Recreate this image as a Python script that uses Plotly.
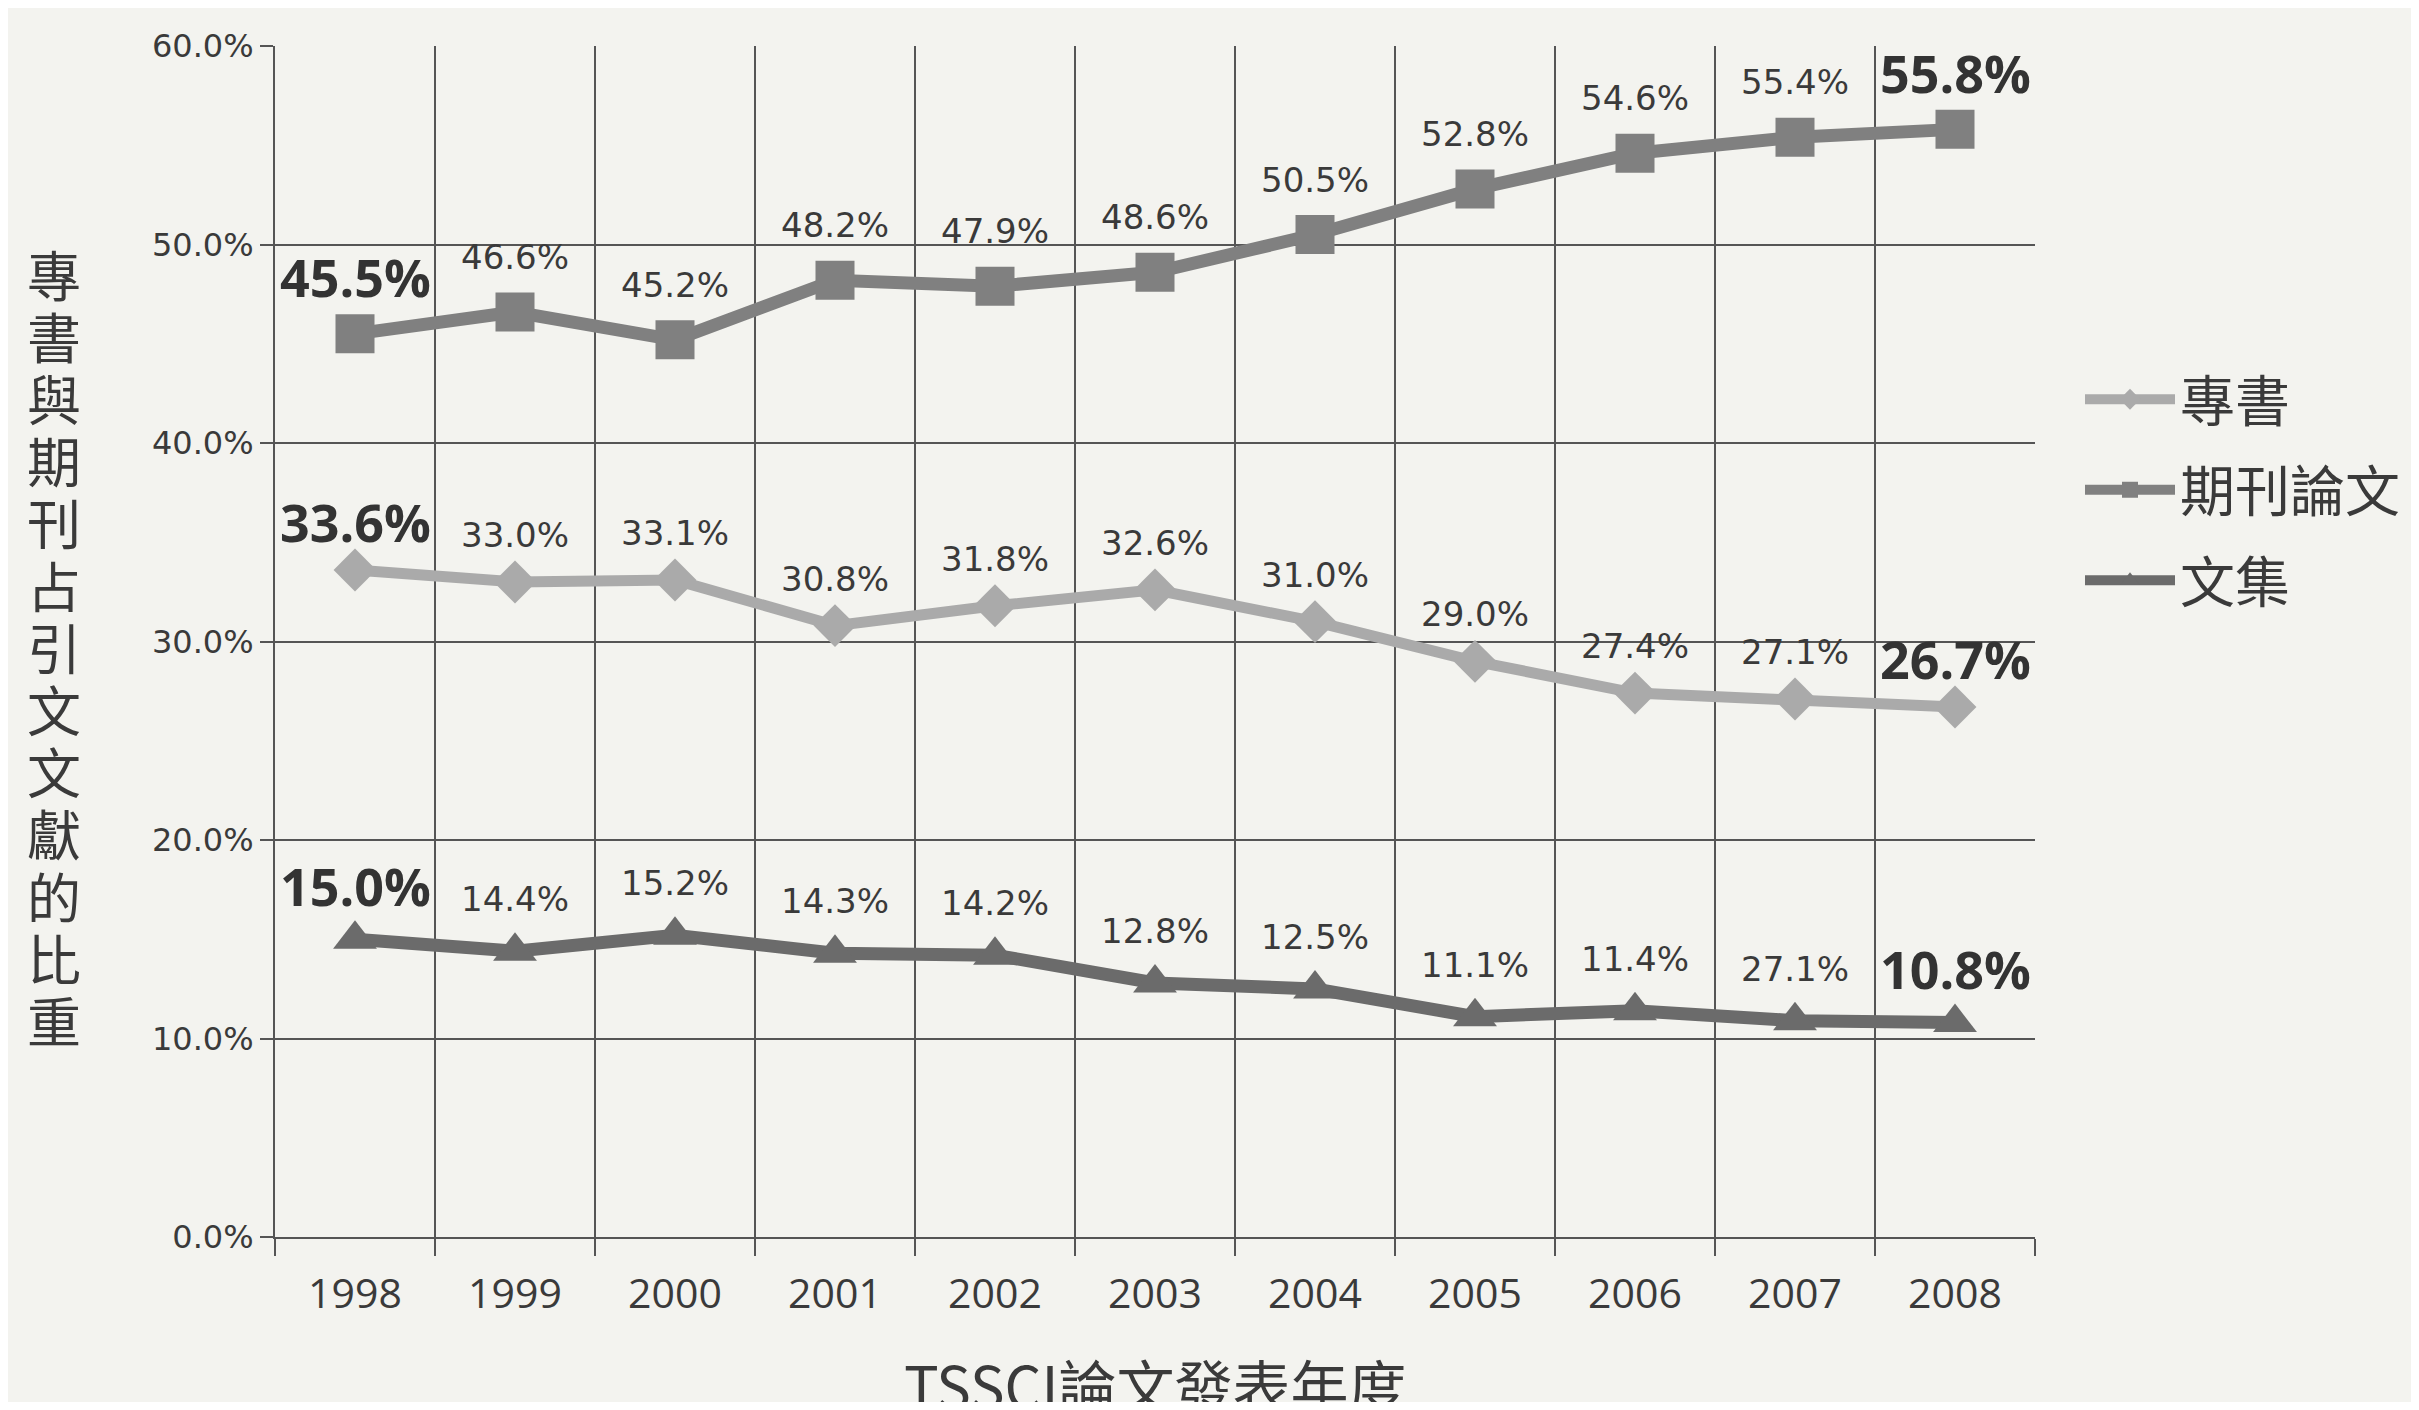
import plotly.graph_objects as go

years = ["1998", "1999", "2000", "2001", "2002", "2003", "2004", "2005", "2006", "2007", "2008"]

# 專書
books = [33.6, 33.0, 33.1, 30.8, 31.8, 32.6, 31.0, 29.0, 27.4, 27.1, 26.7]
books_labels = ["33.6%", "33.0%", "33.1%", "30.8%", "31.8%", "32.6%", "31.0%", "29.0%", "27.4%", "27.1%", "26.7%"]
# 期刊論文
journals = [45.5, 46.6, 45.2, 48.2, 47.9, 48.6, 50.5, 52.8, 54.6, 55.4, 55.8]
journals_labels = ["45.5%", "46.6%", "45.2%", "48.2%", "47.9%", "48.6%", "50.5%", "52.8%", "54.6%", "55.4%", "55.8%"]
# 文集 (the 2007 label reads 27.1% in the original)
collections = [15.0, 14.4, 15.2, 14.3, 14.2, 12.8, 12.5, 11.1, 11.4, 10.9, 10.8]
collections_labels = ["15.0%", "14.4%", "15.2%", "14.3%", "14.2%", "12.8%", "12.5%", "11.1%", "11.4%", "27.1%", "10.8%"]

y_ticks = [0, 10, 20, 30, 40, 50, 60]
y_title = "專書與期刊占引文文獻的比重"
x_title = "TSSCI論文發表年度"

OFF = 8
W, H = 2419 - 2 * OFF, 1410 - 2 * OFF
# plot area in figure px
L, R, T, B = 275 - OFF, 2035 - OFF, 46 - OFF, 1237 - OFF
bg = "#f3f3ef"
grid = "#555555"
txt = "#3a3a3a"
cjk = "Noto Sans CJK TC"

series = [
    ("專書", books, books_labels, "#aaaaaa", "diamond", 33, 11, 47),
    ("期刊論文", journals, journals_labels, "#808080", "square", 39, 13, 55),
    ("文集", collections, collections_labels, "#6b6b6b", "triangle-up", 38, 13, 52),
]

fig = go.Figure()
annotations = []
for name, vals, labels, color, symbol, msize, lw, shift in series:
    fig.add_trace(go.Scatter(
        x=years, y=vals, name=name, legendgroup=name, mode="lines+markers",
        line=dict(color=color, width=lw),
        marker=dict(symbol=symbol, size=msize, color=color),
    ))
    # category axis: annotations take the category index
    for i, (v, lab) in enumerate(zip(vals, labels)):
        bold = i == 0 or i == len(years) - 1
        annotations.append(dict(
            x=i, y=v, xref="x", yref="y", text=f"<b>{lab}</b>" if bold else lab,
            showarrow=False, yanchor="middle", yshift=shift + (2 if bold else 0),
            font=dict(family="Open Sans" if bold else "DejaVu Sans",
                      size=52 if bold else 34, color="#333333" if bold else txt),
        ))

# stacked vertical y-axis title
ph = B - T
pitch = 62.2
top_c = 273 - OFF
for k, ch in enumerate(y_title):
    ypx = top_c + k * pitch
    annotations.append(dict(
        x=(54 - OFF - L) / (R - L), y=(B - ypx) / ph, xref="paper", yref="paper",
        text=ch, showarrow=False, xanchor="center", yanchor="middle",
        font=dict(family=cjk, size=54, color=txt),
    ))

annotations.append(dict(
    x=0.5, y=(B - (1384 - OFF)) / ph, xref="paper", yref="paper", text=x_title,
    showarrow=False, xanchor="center", yanchor="middle",
    font=dict(family=cjk, size=58, color=txt),
))

fig.update_layout(
    width=W, height=H,
    margin=dict(l=L, r=W - R, t=T, b=H - B, autoexpand=False),
    paper_bgcolor=bg, plot_bgcolor=bg,
    annotations=annotations,
    legend=dict(
        x=(2072 - L) / (R - L), y=(B - 349) / ph, xanchor="left", yanchor="top",
        font=dict(family=cjk, size=55, color=txt), bgcolor="rgba(0,0,0,0)",
        itemwidth=90, tracegroupgap=16,
    ),
)
fig.update_xaxes(
    type="category", range=[-0.5, len(years) - 0.5], tickson="boundaries",
    showgrid=True, gridcolor=grid, gridwidth=2,
    ticks="outside", ticklen=17, tickwidth=2, tickcolor=grid, tickangle=0,
    ticklabelstandoff=20,
    showline=True, linecolor=grid, linewidth=2,
    tickfont=dict(family="Open Sans", size=41, color=txt),
)
fig.update_yaxes(
    range=[0, 60], tickvals=y_ticks, ticktext=[f"{v:.1f}%" for v in y_ticks],
    showgrid=True, gridcolor=grid, gridwidth=2, zeroline=False,
    ticks="outside", ticklen=13, tickwidth=2, tickcolor=grid,
    showline=True, linecolor=grid, linewidth=2,
    tickfont=dict(family="DejaVu Sans", size=32, color=txt),
)

fig.write_html("out.html")
